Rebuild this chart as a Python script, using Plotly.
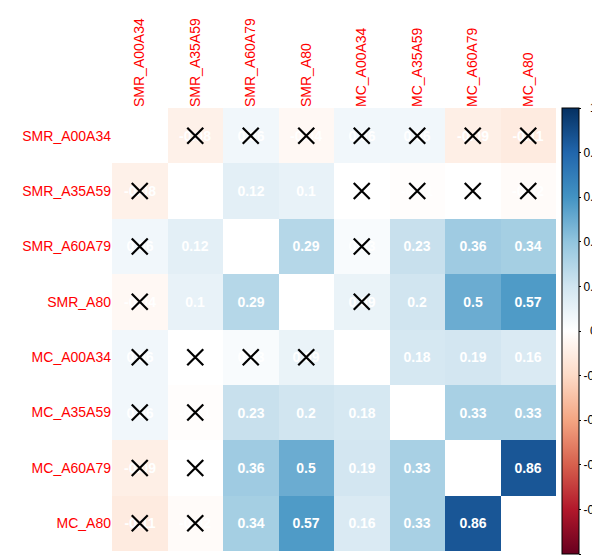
import plotly.graph_objects as go

labels = ["SMR_A00A34", "SMR_A35A59", "SMR_A60A79", "SMR_A80",
          "MC_A00A34", "MC_A35A59", "MC_A60A79", "MC_A80"]

# correlation matrix (diagonal left blank)
corr = [
    [None, -0.08, 0.06, -0.04, 0.06, 0.06, -0.09, -0.11],
    [-0.08, None, 0.12, 0.10, 0.00, -0.01, 0.00, -0.02],
    [0.06, 0.12, None, 0.29, 0.03, 0.23, 0.36, 0.34],
    [-0.04, 0.10, 0.29, None, 0.09, 0.20, 0.50, 0.57],
    [0.06, 0.00, 0.03, 0.09, None, 0.18, 0.19, 0.16],
    [0.06, -0.01, 0.23, 0.20, 0.18, None, 0.33, 0.33],
    [-0.09, 0.00, 0.36, 0.50, 0.19, 0.33, None, 0.86],
    [-0.11, -0.02, 0.34, 0.57, 0.16, 0.33, 0.86, None],
]

# 1 = not significant (crossed out)
insig = [
    [0, 1, 1, 1, 1, 1, 1, 1],
    [1, 0, 0, 0, 1, 1, 1, 1],
    [1, 0, 0, 0, 1, 0, 0, 0],
    [1, 0, 0, 0, 1, 0, 0, 0],
    [1, 1, 1, 1, 0, 0, 0, 0],
    [1, 1, 0, 0, 0, 0, 0, 0],
    [1, 1, 0, 0, 0, 0, 0, 0],
    [1, 1, 0, 0, 0, 0, 0, 0],
]

cbar_ticks = [-1, -0.8, -0.6, -0.4, -0.2, 0, 0.2, 0.4, 0.6, 0.8, 1]

rdbu = ["#67001F", "#B2182B", "#D6604D", "#F4A582", "#FDDBC7", "#FFFFFF",
        "#D1E5F0", "#92C5DE", "#4393C3", "#2166AC", "#053061"]
colorscale = [[i / (len(rdbu) - 1), c] for i, c in enumerate(rdbu)]


def fmt(v):
    if v is None:
        return ""
    return f"{round(v, 2):g}"


def cbar_label(t):
    s = f"{t:g}"
    # roughly centre the short labels like the original legend
    pad = {1: 2, 2: 1}.get(len(s), 0)
    return "\u00a0" * pad + s


text = [[fmt(v) for v in row] for row in corr]

fig = go.Figure()
fig.add_trace(go.Heatmap(
    z=corr, x=labels, y=labels, text=text, texttemplate="%{text}",
    textfont=dict(color="white", size=14, family="Liberation Sans, Arial",
                  weight="bold"),
    colorscale=colorscale, zmin=-1, zmax=1, hoverinfo="skip",
    colorbar=dict(
        x=1.0135, xanchor="left", xpad=0, y=1, yanchor="top", ypad=0,
        lenmode="pixels", len=446, thickness=17,
        outlinecolor="black", outlinewidth=1,
        tickvals=cbar_ticks, ticktext=[cbar_label(t) for t in cbar_ticks],
        ticks="outside", ticklen=2, tickcolor="black",
        tickfont=dict(size=12, color="black", family="Liberation Sans, Arial"),
    ),
))

xs, ys = [], []
for i, r in enumerate(labels):
    for j, c in enumerate(labels):
        if insig[i][j]:
            xs.append(c)
            ys.append(r)

fig.add_trace(go.Scatter(
    x=xs, y=ys, mode="markers", hoverinfo="skip", showlegend=False,
    marker=dict(symbol="x-thin", size=16, color="black",
                line=dict(color="black", width=2.2)),
))

fig.update_layout(
    width=592, height=551,
    margin=dict(l=104, r=44, t=100, b=8, autoexpand=False),
    paper_bgcolor="white", plot_bgcolor="white",
    font=dict(family="Liberation Sans, Arial"),
    showlegend=False,
)
fig.update_xaxes(side="top", tickangle=-90, showgrid=False, zeroline=False,
                 tickfont=dict(color="red", size=14), ticks="",
                 range=[-0.5, 7.5], fixedrange=True)
fig.update_yaxes(autorange=False, range=[7.5, -0.5], showgrid=False,
                 zeroline=False, tickfont=dict(color="red", size=14),
                 ticks="", fixedrange=True)

fig.write_html("out.html")
